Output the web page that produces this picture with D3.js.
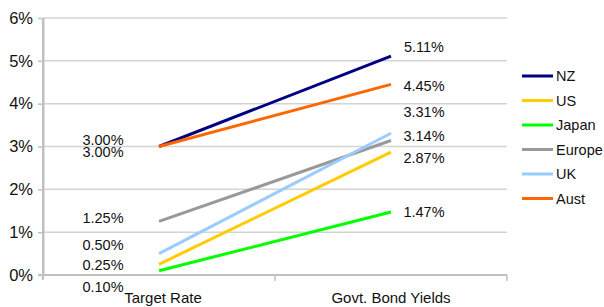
<!DOCTYPE html>
<html>
<head>
<meta charset="utf-8">
<script src="https://cdn.jsdelivr.net/npm/d3@7"></script>
<style>
  body { margin: 0; background: #fff; }
  svg { display: block; font-family: "Liberation Sans", Arial, sans-serif; }
</style>
</head>
<body>
<svg id="chart"></svg>
<script>
const categories = ['Target Rate', 'Govt. Bond Yields'];
const series = ['NZ', 'US', 'Japan', 'Europe', 'UK', 'Aust'];
const targetRate = [3.00, 0.25, 0.10, 1.25, 0.50, 3.00];
const bondYields = [5.11, 2.87, 1.47, 3.14, 3.31, 4.45];
const yTicks = [0, 1, 2, 3, 4, 5, 6];
const colors = ['#000080', '#ffcc00', '#00ff00', '#999999', '#99ccff', '#ff6600'];

// label nudges (px) so overlapping labels stay readable, like the original
const leftNudge = [-6.5, 0, 16, -4, -9, 5];
const rightNudge = [-9, 6, 0, -4.5, -21, 1.5];

const W = 604, H = 307;
const plot = { left: 43, right: 507, top: 18, bottom: 275 };

const svg = d3.select('#chart').attr('width', W).attr('height', H);

const x = d3.scaleBand().domain(categories).range([plot.left, plot.right]);
const xc = c => x(c) + x.bandwidth() / 2;
const y = d3.scaleLinear().domain([0, 6]).range([plot.bottom, plot.top]);

// gridlines
svg.append('g')
  .selectAll('line')
  .data(yTicks.filter(d => d > 0))
  .enter()
  .append('line')
  .attr('x1', plot.left).attr('x2', plot.right)
  .attr('y1', d => y(d)).attr('y2', d => y(d))
  .attr('stroke', '#d4d4d4')
  .attr('stroke-width', 1.5);

// y axis
const yAxis = svg.append('g')
  .attr('transform', `translate(${plot.left},0)`)
  .call(d3.axisLeft(y).tickValues(yTicks).tickFormat(d => d + '%').tickSize(5).tickSizeOuter(0));
yAxis.select('.domain').attr('stroke', '#c0c0c0').attr('stroke-width', 2);
yAxis.selectAll('.tick line').attr('stroke', '#c0c0c0').attr('stroke-width', 1.5);
yAxis.selectAll('.tick text')
  .attr('x', -10)
  .attr('fill', '#111')
  .style('font-size', '16.5px')
  .style('font-family', '"Liberation Sans", Arial, sans-serif');

// x axis
svg.append('line')
  .attr('x1', plot.left - 5).attr('x2', plot.right)
  .attr('y1', plot.bottom).attr('y2', plot.bottom)
  .attr('stroke', '#c0c0c0').attr('stroke-width', 2);
svg.append('g')
  .selectAll('line')
  .data(categories)
  .enter()
  .append('line')
  .attr('x1', d => x(d) + x.bandwidth()).attr('x2', d => x(d) + x.bandwidth())
  .attr('y1', plot.bottom).attr('y2', plot.bottom + 6)
  .attr('stroke', '#c0c0c0').attr('stroke-width', 1.5);
svg.append('line')
  .attr('x1', plot.left).attr('x2', plot.left)
  .attr('y1', plot.top).attr('y2', plot.bottom + 5)
  .attr('stroke', '#c0c0c0').attr('stroke-width', 2);

svg.append('g')
  .selectAll('text')
  .data(categories)
  .enter()
  .append('text')
  .attr('x', (d, i) => xc(d) + (i === 0 ? 4 : 0))
  .attr('y', 303)
  .attr('text-anchor', 'middle')
  .attr('fill', '#111')
  .style('font-size', '15px')
  .text(d => d);

// lines
const rows = series.map((s, i) => ({ name: s, color: colors[i], vals: [targetRate[i], bondYields[i]], i }));
const line = d3.line().x((d, j) => xc(categories[j])).y(d => y(d));

svg.append('g')
  .selectAll('path')
  .data(rows)
  .enter()
  .append('path')
  .attr('d', d => line(d.vals))
  .attr('fill', 'none')
  .attr('stroke', d => d.color)
  .attr('stroke-width', 3);

// data labels
const fmt = d3.format('.2f');
svg.append('g')
  .selectAll('text')
  .data(rows)
  .enter()
  .append('text')
  .attr('x', xc(categories[0]) - 56)
  .attr('y', d => y(d.vals[0]) + leftNudge[d.i])
  .attr('dy', '0.36em')
  .attr('text-anchor', 'middle')
  .attr('fill', '#111')
  .style('font-size', '14.5px')
  .text(d => fmt(d.vals[0]) + '%');

svg.append('g')
  .selectAll('text')
  .data(rows)
  .enter()
  .append('text')
  .attr('x', xc(categories[1]) + 33)
  .attr('y', d => y(d.vals[1]) + rightNudge[d.i])
  .attr('dy', '0.36em')
  .attr('text-anchor', 'middle')
  .attr('fill', '#111')
  .style('font-size', '14.5px')
  .text(d => fmt(d.vals[1]) + '%');

// legend
const legend = svg.append('g').attr('transform', 'translate(522,76)');
const item = legend.selectAll('g')
  .data(rows)
  .enter()
  .append('g')
  .attr('transform', (d, i) => `translate(0,${i * 24.5})`);
item.append('line')
  .attr('x1', 0).attr('x2', 31)
  .attr('stroke', d => d.color)
  .attr('stroke-width', 3);
item.append('text')
  .attr('x', 34)
  .attr('dy', '0.36em')
  .attr('fill', '#111')
  .style('font-size', '14.5px')
  .text(d => d.name);
</script>
</body>
</html>
